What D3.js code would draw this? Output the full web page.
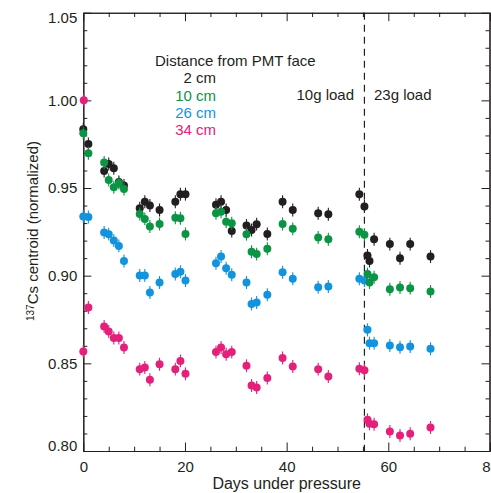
<!DOCTYPE html>
<html>
<head>
<meta charset="utf-8">
<script src="https://cdn.jsdelivr.net/npm/d3@7"></script>
<style>
  body { margin: 0; background: #fff; }
  svg { display: block; }
  text { font-family: "Liberation Sans", Arial, Helvetica, sans-serif; fill: #231f20; }
</style>
</head>
<body>
<svg id="chart" width="491" height="493"></svg>
<script>
// Measurement days (days under pressure)
const days = [0, 1, 4.1, 5, 6, 7, 8, 11.1, 12.1, 13.1, 15, 18.1, 19.1, 20.1,
  26.1, 27.1, 28.1, 29.2, 32.1, 33.1, 34.1, 36.2, 39.2, 41.2, 46.2, 48.2,
  54.3, 55.3, 55.9, 56.3, 57.2, 60.3, 62.3, 64.3, 68.3];

// Normalized 137Cs photopeak centroid, one array per source distance
const centroid2cm = [0.9835, 0.9751, 0.9597, 0.9637, 0.9613, 0.9535, 0.9514,
  0.9385, 0.9422, 0.9400, 0.9375, 0.9422, 0.9465, 0.9465,
  0.9404, 0.9422, 0.9375, 0.9255, 0.9286, 0.9261, 0.9294, 0.9238, 0.9422, 0.9375, 0.9356, 0.9351,
  0.9465, 0.9394, 0.9115, 0.9084, 0.9208, 0.9180, 0.9100, 0.9180, 0.9109];
const centroid10cm = [0.9812, 0.9698, 0.9645, 0.9546, 0.9505, 0.9528, 0.9495,
  0.9352, 0.9324, 0.9280, 0.9295, 0.9331, 0.9328, 0.9238,
  0.9356, 0.9365, 0.9308, 0.9299, 0.9237, 0.9137, 0.9123, 0.9153, 0.9295, 0.9267, 0.9218, 0.9208,
  0.9251, 0.9233, 0.9009, 0.8961, 0.8991, 0.8923, 0.8932, 0.8929, 0.8910];
const centroid26cm = [0.9337, 0.9335, 0.9246, 0.9237, 0.9200, 0.9170, 0.9084,
  0.9001, 0.9001, 0.8904, 0.8961, 0.9010, 0.9022, 0.8972,
  0.9071, 0.9109, 0.9043, 0.9005, 0.8961, 0.8838, 0.8847, 0.8891, 0.9020, 0.8982, 0.8934, 0.8938,
  0.8982, 0.8972, 0.8691, 0.8615, 0.8615, 0.8602, 0.8592, 0.8596, 0.8583];
const centroid34cm = [0.8567, 0.8818, 0.8710, 0.8681, 0.8644, 0.8644, 0.8590,
  0.8467, 0.8476, 0.8406, 0.8495, 0.8467, 0.8514, 0.8440,
  0.8564, 0.8590, 0.8552, 0.8564, 0.8486, 0.8373, 0.8362, 0.8416, 0.8530, 0.8482, 0.8467, 0.8425,
  0.8469, 0.8460, 0.8178, 0.8155, 0.8153, 0.8111, 0.8088, 0.8098, 0.8134];
// Reference point of the 34 cm series (normalization)
const refDays34 = [0.1];
const refValues34 = [1.000];

const errHalf = 0.0037;           // half-length of the error bars
const loadChangeDay = 55.3;       // switch from 10 g to 23 g load

const seriesNames = ["2 cm", "10 cm", "26 cm", "34 cm"];
const seriesColors = ["#231f20", "#0a9444", "#1193de", "#e3207a"];
const loadLabels = ["10g load", "23g load"];
const legendTitle = "Distance from PMT face";
const xMajorTicks = [0, 20, 40, 60, 80];
const yMajorTicks = [0.80, 0.85, 0.90, 0.95, 1.00, 1.05];

const svg = d3.select("#chart");
const x = d3.scaleLinear().domain([0, 80]).range([83.3, 490]);
const y = d3.scaleLinear().domain([0.80, 1.05]).range([451, 12.7]);

const xMinor = d3.range(0, 81, 5).filter(v => !xMajorTicks.includes(v));
const yMinor = d3.range(80, 106, 1).map(v => v / 100).filter(v => !yMajorTicks.some(t => Math.abs(t - v) < 1e-9));

const ink = "#231f20";
const axisG = svg.append("g").attr("class", "axes");

function styleAxis(g) {
  g.selectAll("path.domain").attr("stroke", ink).attr("stroke-width", 1.1);
  g.selectAll(".tick line").attr("stroke", ink).attr("stroke-width", 1);
  g.selectAll(".tick text").attr("fill", ink).style("font-size", "15px")
    .style("font-family", '"Liberation Sans", Arial, sans-serif');
}

// bottom axis with labels
axisG.append("g").attr("transform", `translate(0,${y(0.80)})`)
  .call(d3.axisBottom(x).tickValues(xMajorTicks).tickSizeInner(-8.5).tickSizeOuter(0)
    .tickPadding(10.5).tickFormat(d3.format("d")))
  .call(styleAxis);
axisG.append("g").attr("transform", `translate(0,${y(0.80)})`)
  .call(d3.axisBottom(x).tickValues(xMinor).tickSizeInner(-4.3).tickSizeOuter(0).tickFormat(""))
  .call(styleAxis);
// top axis (mirror ticks)
axisG.append("g").attr("transform", `translate(0,${y(1.05)})`)
  .call(d3.axisTop(x).tickValues(xMajorTicks).tickSizeInner(-8.5).tickSizeOuter(0).tickFormat(""))
  .call(styleAxis);
axisG.append("g").attr("transform", `translate(0,${y(1.05)})`)
  .call(d3.axisTop(x).tickValues(xMinor).tickSizeInner(-4.3).tickSizeOuter(0).tickFormat(""))
  .call(styleAxis);
// left axis with labels
const leftAxis = axisG.append("g").attr("transform", `translate(${x(0)},0)`)
  .call(d3.axisLeft(y).tickValues(yMajorTicks).tickSizeInner(-8).tickSizeOuter(0)
    .tickPadding(6).tickFormat(d3.format(".2f")))
  .call(styleAxis);
leftAxis.selectAll(".tick text").attr("dy", d => d === 1.05 ? "0.68em" : (d === 0.80 ? "-0.02em" : "0.33em"));
axisG.append("g").attr("transform", `translate(${x(0)},0)`)
  .call(d3.axisLeft(y).tickValues(yMinor).tickSizeInner(-4).tickSizeOuter(0).tickFormat(""))
  .call(styleAxis);
// right axis (mirror ticks)
axisG.append("g").attr("transform", `translate(${x(80) - 0.5},0)`)
  .call(d3.axisRight(y).tickValues(yMajorTicks).tickSizeInner(-8).tickSizeOuter(0).tickFormat(""))
  .call(styleAxis);
axisG.append("g").attr("transform", `translate(${x(80) - 0.5},0)`)
  .call(d3.axisRight(y).tickValues(yMinor).tickSizeInner(-4).tickSizeOuter(0).tickFormat(""))
  .call(styleAxis);

// load change marker
svg.append("line")
  .attr("x1", x(loadChangeDay)).attr("x2", x(loadChangeDay))
  .attr("y1", y(1.05)).attr("y2", y(0.80))
  .attr("stroke", ink).attr("stroke-width", 1.2).attr("stroke-dasharray", "7,5");

// data points with error bars
const seriesValues = [centroid2cm, centroid10cm, centroid26cm, centroid34cm];
const drawOrder = [0, 2, 3, 1];
const pts = svg.append("g").attr("class", "points");
drawOrder.forEach(si => {
  let data = days.map((d, i) => ({ day: d, v: seriesValues[si][i] }));
  if (si === 3) data = data.concat(refDays34.map((d, i) => ({ day: d, v: refValues34[i] })));
  const g = pts.append("g");
  g.selectAll("line").data(data).join("line")
    .attr("x1", d => x(d.day)).attr("x2", d => x(d.day))
    .attr("y1", d => y(d.v - errHalf)).attr("y2", d => y(d.v + errHalf))
    .attr("stroke", seriesColors[si]).attr("stroke-width", 1.1);
  g.selectAll("circle").data(data).join("circle")
    .attr("cx", d => x(d.day)).attr("cy", d => y(d.v)).attr("r", 4)
    .attr("fill", seriesColors[si]);
});

// legend
svg.append("text").attr("x", 155).attr("y", 65.5).style("font-size", "15px").text(legendTitle);
seriesNames.forEach((n, i) => {
  svg.append("text").attr("x", 216).attr("y", 83.3 + i * 17.3)
    .attr("text-anchor", "end").style("font-size", "15px")
    .style("fill", seriesColors[i]).text(n);
});
svg.append("text").attr("x", 296.5).attr("y", 100).style("font-size", "15px").text(loadLabels[0]);
svg.append("text").attr("x", 374).attr("y", 100).style("font-size", "15px").text(loadLabels[1]);

// axis titles
svg.append("text").attr("x", x(40)).attr("y", 488.5).attr("text-anchor", "middle")
  .style("font-size", "16px").text("Days under pressure");
const yl = svg.append("text").attr("transform", "translate(38,231) rotate(-90)")
  .attr("text-anchor", "middle").style("font-size", "15px");
yl.append("tspan").style("font-size", "10px").attr("dy", "-0.45em").text("137");
yl.append("tspan").attr("dy", "0.3em").text("Cs centroid (normalized)");
</script>
</body>
</html>
